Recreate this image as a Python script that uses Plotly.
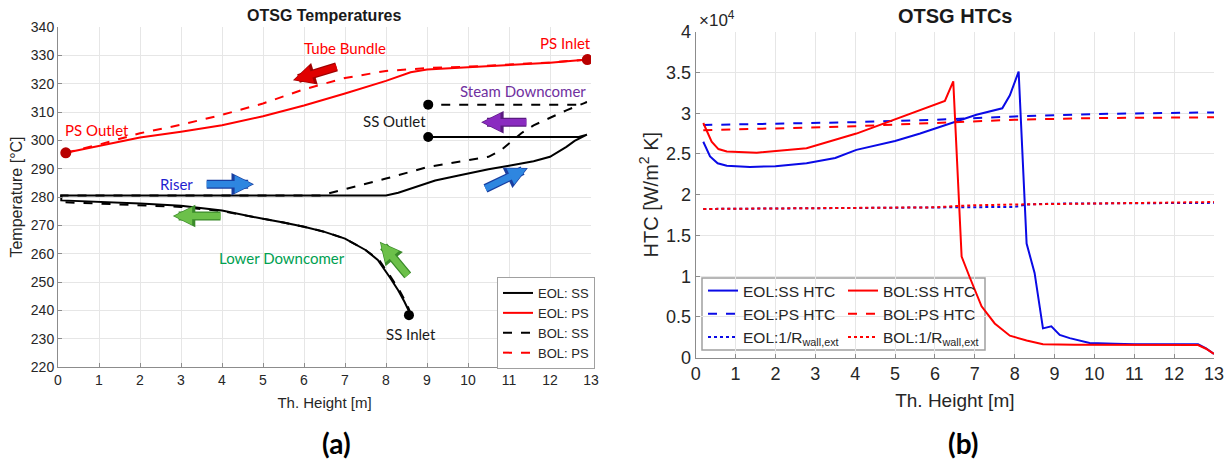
import plotly.graph_objects as go

# ---------------- (a) OTSG Temperatures ----------------
# Primary side (PS)
eol_ps_x = [0.19, 1, 2, 3, 4, 5, 6, 7, 8, 8.6, 9, 10, 11, 12, 12.91]
eol_ps_t = [295.6, 298, 301, 303, 305.3, 308.5, 312.3, 316.5, 321, 324, 325, 325.8, 326.6, 327.4, 328.5]
bol_ps_x = [0.19, 1, 2, 3, 4, 5, 6, 7, 8, 9, 10, 11, 12, 12.91]
bol_ps_t = [295.6, 298.5, 302.5, 305.5, 309, 313, 318, 322, 324.5, 325.5, 326, 326.8, 327.5, 328.5]

# Secondary side (SS) - lower downcomer (from SS inlet to bottom)
eol_ldc_x = [8.56, 8.55, 8.45, 8.3, 8.1, 7.8, 7.5, 7.0, 6.5, 6.0, 5.5, 5.0, 4.0, 3.0, 2.0, 1.0, 0.08]
eol_ldc_t = [238.3, 240, 243, 247, 251.5, 257.8, 261.3, 265.3, 267.7, 269.5, 271, 272.3, 275.2, 276.9, 277.7, 278.3, 278.8]
bol_ldc_x = [8.58, 8.57, 8.48, 8.33, 8.13, 7.83, 7.5, 7.0, 6.5, 6.0, 5.5, 5.0, 4.0, 3.0, 2.0, 1.0, 0.08]
bol_ldc_t = [238.3, 240, 243, 247, 251.5, 257.8, 261.3, 265.3, 267.7, 269.5, 271, 272.3, 275.0, 276.5, 277.1, 277.5, 278.2]
# Riser
eol_riser_x = [0.08, 8.0, 8.3, 8.7, 9.2, 9.8, 10.5, 11.0, 11.6, 12.0, 12.2, 12.4, 12.6, 12.9]
eol_riser_t = [280.5, 280.5, 281.5, 283.5, 285.8, 287.7, 289.8, 291.0, 292.6, 294.2, 295.8, 297.7, 299.8, 302.0]
bol_riser_x = [0.08, 6.4, 7.0, 8.0, 9.0, 10.0, 10.5, 10.8, 11.0, 11.3, 11.6, 12.0, 12.4, 12.9]
bol_riser_t = [280.5, 280.5, 282.8, 286.5, 290.5, 292.8, 294.2, 296.5, 299.0, 302.5, 305.3, 308.0, 310.6, 313.5]
# Steam downcomer
eol_sdc_x = [12.9, 12.7, 9.03]
eol_sdc_t = [302.0, 301.2, 301.2]
bol_sdc_x = [12.9, 12.7, 9.03]
bol_sdc_t = [313.5, 312.6, 312.6]

# marker points
ps_pts_x = [0.19, 12.91]
ps_pts_t = [295.6, 328.5]
ss_pts_x = [9.03, 9.03, 8.56]
ss_pts_t = [301.2, 312.6, 238.3]

# ---------------- (b) OTSG HTCs ----------------
eol_ss_x = [0.19, 0.36, 0.55, 0.78, 1.36, 2.0, 2.78, 3.5, 4.03, 5.0, 5.63, 6.12, 6.46, 7.04, 7.69,
            7.88, 8.1, 8.3, 8.5, 8.71, 8.92, 9.13, 9.38, 9.88, 10.5, 11, 12, 12.6, 12.8, 13.0]
eol_ss_h = [26500, 24700, 23850, 23560, 23400, 23500, 23850, 24500, 25500, 26600, 27500, 28300, 28800,
            29800, 30600, 32200, 35100, 14000, 10400, 3600, 3850, 2800, 2400, 1800, 1700, 1650, 1650,
            1650, 1150, 450]
bol_ss_x = [0.19, 0.4, 0.57, 0.78, 1.53, 2.78, 4.03, 5.29, 5.63, 6.25, 6.46, 6.67, 6.87, 7.17, 7.5,
            7.88, 8.3, 8.71, 9.5, 10, 11, 12, 12.6, 12.8, 13.0]
bol_ss_h = [28800, 26500, 25600, 25300, 25150, 25700, 27500, 29800, 30400, 31500, 33900, 12400, 9900,
            6300, 4200, 2700, 2100, 1650, 1600, 1600, 1600, 1550, 1550, 1100, 450]
ps_x = [0.19, 2, 4, 6, 8, 10, 13]
eol_ps_h = [28550, 28700, 28900, 29200, 29600, 29900, 30100]
bol_ps_h = [27900, 28100, 28400, 28800, 29200, 29400, 29500]
rw_x_eol = [0.19, 4, 6, 7, 8, 8.3, 9, 13]
eol_rw_h = [18250, 18350, 18400, 18450, 18500, 18800, 18900, 19000]
rw_x_bol = [0.19, 4, 6, 6.5, 7, 8, 10, 13]
bol_rw_h = [18250, 18350, 18450, 18600, 18700, 18800, 18900, 19100]

htc_tickvals = [0, 5000, 10000, 15000, 20000, 25000, 30000, 35000, 40000]
htc_ticktext = ['0', '0.5', '1', '1.5', '2', '2.5', '3', '3.5', '4']
x_ticks = list(range(0, 14))

RED = '#FF0000'
BLUE = '#0A0AE6'
DARKRED = '#B80000'

fig = go.Figure()

def line(x, y, color, dash, name, xa, ya, legend, show=True, width=2):
    fig.add_trace(go.Scatter(x=x, y=y, mode='lines', name=name,
                             line=dict(color=color, dash=dash, width=width),
                             xaxis=xa, yaxis=ya, legend=legend, showlegend=show,
                             hoverinfo='skip'))

# Left plot traces
line(eol_ldc_x + eol_riser_x + eol_sdc_x, eol_ldc_t + eol_riser_t + eol_sdc_t, 'black', 'solid', 'EOL: SS', 'x', 'y', 'legend')
line(eol_ps_x, eol_ps_t, RED, 'solid', 'EOL: PS', 'x', 'y', 'legend')
line(bol_ldc_x + bol_riser_x + bol_sdc_x, bol_ldc_t + bol_riser_t + bol_sdc_t, 'black', 'dash', 'BOL: SS', 'x', 'y', 'legend')
line(bol_ps_x, bol_ps_t, RED, 'dash', 'BOL: PS', 'x', 'y', 'legend')
fig.add_trace(go.Scatter(x=ps_pts_x, y=ps_pts_t, mode='markers', marker=dict(color=DARKRED, size=11),
                         showlegend=False, xaxis='x', yaxis='y', hoverinfo='skip'))
fig.add_trace(go.Scatter(x=ss_pts_x, y=ss_pts_t, mode='markers', marker=dict(color='black', size=10),
                         showlegend=False, xaxis='x', yaxis='y', hoverinfo='skip'))

# Right plot traces
line(eol_ss_x, eol_ss_h, BLUE, 'solid', 'EOL:SS HTC', 'x2', 'y2', 'legend2')
line(ps_x, eol_ps_h, BLUE, 'dash', 'EOL:PS HTC', 'x2', 'y2', 'legend2')
line(rw_x_eol, eol_rw_h, BLUE, 'dot', 'EOL:1/R<sub>wall,ext</sub>', 'x2', 'y2', 'legend2')
line(bol_ss_x, bol_ss_h, RED, 'solid', 'BOL:SS HTC', 'x2', 'y2', 'legend3')
line(ps_x, bol_ps_h, RED, 'dash', 'BOL:PS HTC', 'x2', 'y2', 'legend3')
line(rw_x_bol, bol_rw_h, RED, 'dot', 'BOL:1/R<sub>wall,ext</sub>', 'x2', 'y2', 'legend3')

W, H = 1231, 464
def px(x):
    return x / W
def py(y):
    return 1 - y / H

axis_common = dict(showgrid=True, gridcolor='#E6E6E6', gridwidth=1, zeroline=False,
                   showline=True, linecolor='#8C8C8C', linewidth=1, ticks='inside',
                   ticklen=4, tickcolor='#8C8C8C', mirror=False, automargin=False)

FONT = 'Liberation Sans, Arial'
TICKFONT_A = dict(family=FONT, size=14, color='#262626')
TICKFONT_B = dict(family=FONT, size=18, color='#262626')
TITLEFONT_A = dict(family=FONT, size=15, color='#262626')
TITLEFONT_AY = dict(family=FONT, size=16, color='#262626')
TITLEFONT_B = dict(family=FONT, size=19, color='#262626')
TITLEFONT_BY = dict(family=FONT, size=20, color='#262626')

fig.update_layout(
    width=W, height=H, margin=dict(l=0, r=0, t=0, b=0, autoexpand=False),
    paper_bgcolor='white', plot_bgcolor='white',
    xaxis=dict(domain=[px(58), px(591)], range=[0, 13], tickvals=x_ticks, anchor='y',
               tickfont=TICKFONT_A, title=dict(text='Th. Height [m]', font=TITLEFONT_A, standoff=10), **axis_common),
    yaxis=dict(domain=[py(367), py(27)], range=[220, 340], dtick=10, anchor='x',
               tickfont=TICKFONT_A, title=dict(text='Temperature [°C]', font=TITLEFONT_AY, standoff=4), **axis_common),
    xaxis2=dict(domain=[px(695.7), px(1214)], range=[0, 13], tickvals=x_ticks, anchor='y2',
                tickfont=TICKFONT_B, title=dict(text='Th. Height [m]', font=TITLEFONT_B, standoff=10), **axis_common),
    yaxis2=dict(domain=[py(357.7), py(31.7)], range=[0, 40000], tickvals=htc_tickvals, ticktext=htc_ticktext,
                anchor='x2', tickfont=TICKFONT_B,
                title=dict(text='HTC [W/m<sup>2</sup> K]', font=TITLEFONT_BY, standoff=2), **axis_common),
    legend=dict(x=px(497), y=py(277), xanchor='left', yanchor='top', bgcolor='white',
                bordercolor='#A0A0A0', borderwidth=1, font=dict(family=FONT, size=13, color='#262626'),
                tracegroupgap=0, itemwidth=30),
    legend2=dict(x=px(703), y=py(274), xanchor='left', yanchor='top', bgcolor='rgba(0,0,0,0)',
                 borderwidth=0, font=dict(family=FONT, size=15.5, color='#262626'),
                 tracegroupgap=0, itemwidth=30),
    legend3=dict(x=px(843), y=py(274), xanchor='left', yanchor='top', bgcolor='rgba(0,0,0,0)',
                 borderwidth=0, font=dict(family=FONT, size=15.5, color='#262626'),
                 tracegroupgap=0, itemwidth=30),
    showlegend=True,
)

# legend box for the right plot
fig.add_shape(type='rect', xref='paper', yref='paper', x0=px(702), x1=px(985), y0=py(350), y1=py(278),
              line=dict(color='#A0A0A0', width=1.5), fillcolor='white', layer='below')

ann = []
def paper_text(text, x, y, size, family=FONT, color='#1a1a1a', xanchor='center'):
    ann.append(dict(text=text, x=px(x), y=py(y), xref='paper', yref='paper', xanchor=xanchor,
                    yanchor='middle', showarrow=False, font=dict(family=family, size=size, color=color)))

# titles and panel labels
paper_text('<b>OTSG Temperatures</b>', 324.5, 16, 16)
paper_text('<b>OTSG HTCs</b>', 955, 16, 20)
paper_text('×10<sup>4</sup>', 697, 19, 17, color='#262626', xanchor='left')
paper_text('<b>(a)</b>', 336, 443, 28, family='Lato, Liberation Sans', color='black')
paper_text('<b>(b)</b>', 963, 443, 28, family='Lato, Liberation Sans', color='black')

# in-plot labels (left chart)
labels = [
    ('Tube Bundle', 7.0, 332.5, RED),
    ('PS Inlet', 12.37, 334.3, RED),
    ('PS Outlet', 0.95, 303.5, RED),
    ('Steam Downcomer', 11.34, 317.3, '#7030A0'),
    ('SS Outlet', 8.2, 306.7, '#1a1a1a'),
    ('Riser', 2.88, 284.5, '#1F1FD0'),
    ('Lower Downcomer', 5.46, 258.4, '#00A050'),
    ('SS Inlet', 8.6, 231.6, '#1a1a1a'),
]
for t, x, y, c in labels:
    ann.append(dict(text=t, x=x, y=y, xref='x', yref='y', showarrow=False,
                    font=dict(family='Lato, Open Sans', size=15, color=c)))

# flow arrows (head x,y ; tail ax,ay) in data coords: dark outline + fill
arrows = [
    (5.73, 321.2, 6.83, 326.1, '#E00000', '#A00000'),
    (10.32, 306.4, 11.46, 306.4, '#8A2BC0', '#5A1A80'),
    (4.78, 284.5, 3.59, 284.5, '#2E86E0', '#1A3FA0'),
    (11.46, 290.2, 10.39, 282.8, '#2E86E0', '#1A3FA0'),
    (2.8, 273.3, 4.0, 273.3, '#6CC04A', '#3A8A2A'),
    (7.85, 264.2, 8.56, 251.8, '#6CC04A', '#3A8A2A'),
]
for hx, hy, tx, ty, c, oc in arrows:
    ann.append(dict(x=hx, y=hy, ax=tx, ay=ty, xref='x', yref='y', axref='x', ayref='y',
                    showarrow=True, arrowhead=2, arrowsize=0.5, arrowwidth=9, arrowcolor=oc, text=''))
    ann.append(dict(x=hx, y=hy, ax=tx, ay=ty, xref='x', yref='y', axref='x', ayref='y',
                    showarrow=True, arrowhead=2, arrowsize=0.55, arrowwidth=6.5, arrowcolor=c, text='',
                    standoff=1.5))

fig.update_layout(annotations=ann)
fig.write_html('out.html')
